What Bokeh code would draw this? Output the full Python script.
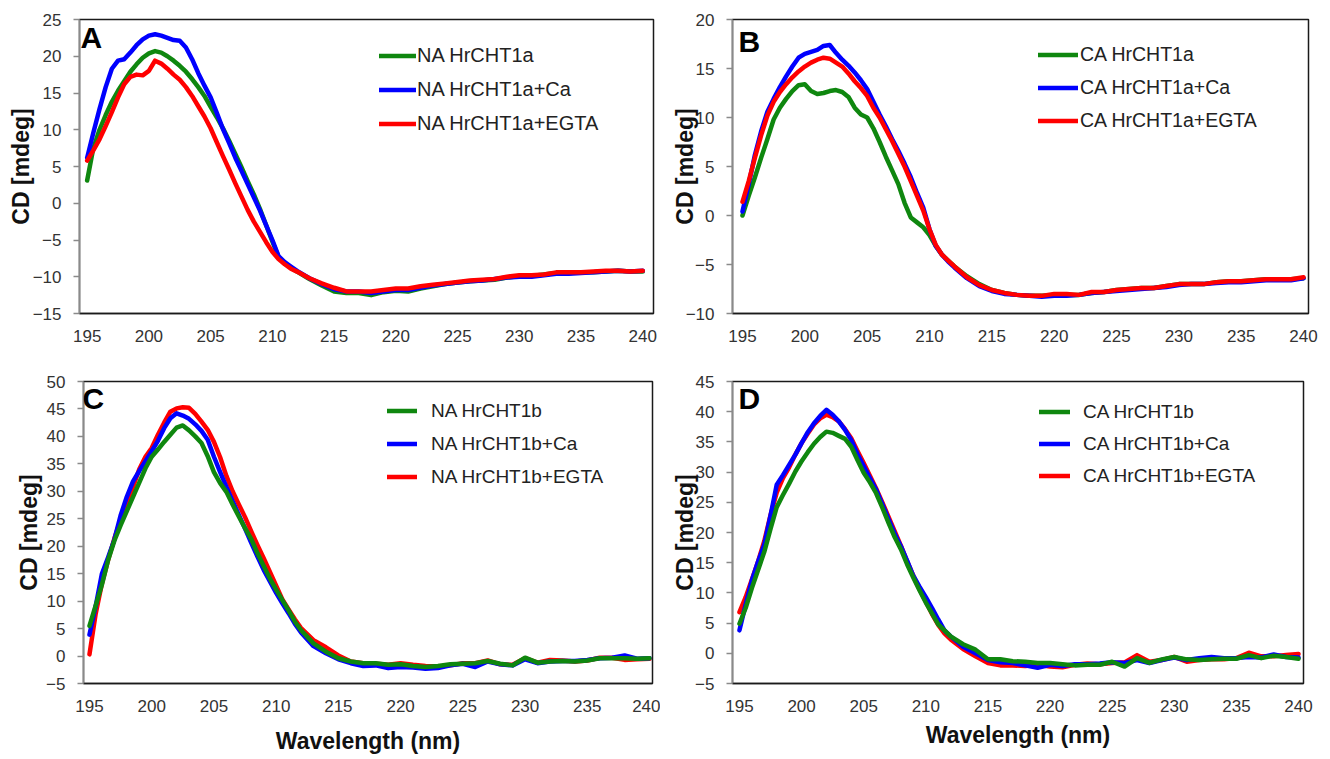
from bokeh.plotting import figure
from bokeh.layouts import row, column
from bokeh.models import Range1d, Legend, LegendItem, Label, FixedTicker
from bokeh.embed import file_html
from bokeh.resources import INLINE

# ---------------- data ----------------
wavelength = [195, 195.5, 196, 196.5, 197, 197.5, 198, 198.5, 199, 199.5,
              200, 200.5, 201, 201.5, 202, 202.5, 203, 203.5, 204, 204.5,
              205, 205.5, 206, 206.5, 207, 207.5, 208, 208.5, 209, 209.5,
              210, 210.5, 211, 211.5, 212,
              213, 214, 215, 216, 217, 218, 219, 220, 221, 222, 223, 224, 225,
              226, 227, 228, 229, 230, 231, 232, 233, 234, 235, 236, 237, 238,
              239, 240]

x_ticks = [195, 200, 205, 210, 215, 220, 225, 230, 235, 240]

# Panel A
na_1a = [3.1, 7.5, 10.0, 12.0, 13.8, 15.3, 16.6, 17.9, 18.9, 19.8,
         20.4, 20.7, 20.5, 20.0, 19.4, 18.7, 17.9, 16.9, 15.8, 14.6,
         13.1, 11.7, 10.2, 8.5, 6.7, 4.9, 3.0, 1.2, -0.8, -3.0,
         -5.2, -7.3, -8.2, -8.8, -9.3,
         -10.3, -11.2, -12.0, -12.2, -12.2, -12.5, -12.1, -11.9, -12.0, -11.6, -11.3, -11.0, -10.8,
         -10.6, -10.5, -10.4, -10.1, -9.9, -9.9, -9.7, -9.5, -9.5, -9.4, -9.4, -9.3, -9.2,
         -9.3, -9.3]
na_1a_ca = [6.2, 9.6, 12.8, 15.8, 18.3, 19.4, 19.6, 20.5, 21.5, 22.3,
            22.8, 23.0, 22.8, 22.5, 22.2, 22.1, 21.2, 19.6, 17.7, 16.0,
            14.4, 12.3, 10.1, 8.2, 6.2, 4.4, 2.6, 0.8, -1.0, -3.0,
            -5.0, -7.2, -8.0, -8.6, -9.2,
            -10.2, -11.0, -11.7, -12.0, -12.0, -12.2, -12.0, -11.8, -11.8, -11.5, -11.2, -11.0, -10.8,
            -10.6, -10.5, -10.3, -10.1, -10.0, -10.0, -9.8, -9.6, -9.6, -9.5, -9.4, -9.3, -9.2,
            -9.3, -9.2]
na_1a_egta = [5.8, 7.2, 8.7, 10.5, 12.4, 14.4, 16.2, 17.2, 17.5, 17.4,
              18.0, 19.4, 19.0, 18.3, 17.5, 16.8, 15.8, 14.6, 13.2, 11.8,
              10.2, 8.3, 6.4, 4.6, 2.7, 0.9, -0.9, -2.5, -3.9, -5.3,
              -6.6, -7.6, -8.3, -8.9, -9.3,
              -10.2, -10.9, -11.5, -12.0, -12.0, -12.0, -11.8, -11.6, -11.6, -11.3, -11.1, -10.9, -10.7,
              -10.5, -10.4, -10.3, -10.0, -9.8, -9.8, -9.7, -9.4, -9.4, -9.4, -9.3, -9.2, -9.2,
              -9.3, -9.2]

# Panel B
ca_1a = [0.0, 2.0, 3.9, 5.9, 7.8, 9.8, 11.0, 11.9, 12.7, 13.3,
         13.4, 12.7, 12.4, 12.5, 12.7, 12.8, 12.6, 12.1, 11.0, 10.3,
         10.0, 8.9, 7.5, 6.0, 4.6, 3.2, 1.3, -0.2, -0.7, -1.2,
         -2.0, -3.1, -4.0, -4.6, -5.2,
         -6.2, -7.0, -7.6, -7.9, -8.1, -8.2, -8.2, -8.1, -8.1, -8.1, -7.9, -7.8, -7.6,
         -7.5, -7.4, -7.4, -7.2, -7.0, -7.0, -7.0, -6.8, -6.7, -6.7, -6.6, -6.5, -6.5,
         -6.5, -6.4]
ca_1a_ca = [0.4, 3.2, 6.2, 8.6, 10.6, 11.9, 13.1, 14.2, 15.2, 16.1,
            16.5, 16.7, 16.9, 17.3, 17.4, 16.6, 15.9, 15.3, 14.6, 13.8,
            12.9, 11.6, 10.3, 9.1, 7.8, 6.6, 5.3, 3.9, 2.3, 0.8,
            -1.4, -3.1, -4.0, -4.7, -5.3,
            -6.4, -7.2, -7.7, -8.0, -8.1, -8.2, -8.3, -8.2, -8.2, -8.1, -7.9, -7.8, -7.7,
            -7.6, -7.5, -7.4, -7.3, -7.1, -7.0, -7.0, -6.9, -6.8, -6.8, -6.7, -6.6, -6.6,
            -6.6, -6.4]
ca_1a_egta = [1.4, 3.5, 5.9, 8.2, 10.2, 11.6, 12.6, 13.4, 14.1, 14.7,
              15.2, 15.6, 15.9, 16.1, 16.0, 15.6, 15.2, 14.5, 13.7, 13.0,
              12.2, 11.0, 10.0, 8.8, 7.6, 6.3, 5.0, 3.5, 2.0, 0.5,
              -1.4, -3.0, -4.0, -4.6, -5.2,
              -6.3, -7.1, -7.6, -7.9, -8.1, -8.2, -8.2, -8.0, -8.0, -8.1, -7.8, -7.8, -7.6,
              -7.5, -7.4, -7.4, -7.2, -7.0, -7.0, -7.0, -6.8, -6.7, -6.7, -6.6, -6.5, -6.5,
              -6.5, -6.3]

# Panel C
na_1b = [5.5, 9.2, 13.0, 17.5, 21.0, 23.8, 26.4, 29.0, 31.6, 34.2,
         36.3, 37.6, 39.0, 40.3, 41.6, 42.0, 41.1, 40.0, 38.8, 36.4,
         33.5, 31.5, 29.9, 27.6, 25.4, 23.3, 21.3, 18.7, 16.4, 14.1,
         12.1, 10.2, 8.3, 6.3, 4.7,
         2.3, 0.8, -0.4, -1.0, -1.3, -1.3, -1.6, -1.5, -1.8, -2.0, -1.8, -1.5, -1.4,
         -1.3, -0.9, -1.4, -1.7, -0.3, -1.2, -1.0, -0.9, -1.0, -0.8, -0.4, -0.4, -0.4,
         -0.5, -0.4]
na_1b_ca = [3.9, 9.1, 15.0, 18.0, 21.2, 25.6, 29.0, 31.8, 33.7, 35.5,
            37.3, 39.2, 41.5, 43.3, 44.2, 43.8, 43.2, 42.2, 41.0, 39.4,
            36.3, 33.5, 30.8, 28.2, 25.7, 23.2, 20.6, 18.1, 15.7, 13.6,
            11.5, 9.6, 7.8, 5.9, 4.3,
            1.8, 0.5, -0.6, -1.3, -1.8, -1.7, -2.2, -2.0, -2.1, -2.3, -2.2, -1.7, -1.4,
            -2.0, -1.0, -1.5, -1.7, -0.6, -1.3, -1.0, -0.9, -0.9, -0.7, -0.4, -0.3, 0.1,
            -0.5, -0.4]
na_1b_egta = [0.3, 7.7, 13.2, 17.5, 21.4, 24.8, 27.9, 30.8, 34.0, 36.3,
              37.9, 40.3, 42.5, 44.5, 45.1, 45.3, 45.2, 44.1, 42.7, 41.2,
              39.0, 36.2, 32.8, 30.0, 27.6, 25.3, 22.7, 20.2, 17.8, 15.3,
              12.8, 10.3, 8.5, 6.7, 5.1,
              2.9, 1.6, 0.1, -1.0, -1.3, -1.4, -1.6, -1.3, -1.6, -1.8, -1.9, -1.7, -1.3,
              -1.3, -0.8, -1.5, -1.6, -0.4, -1.2, -0.7, -0.8, -1.0, -0.8, -0.3, -0.3, -0.7,
              -0.6, -0.5]

# Panel D
ca_1b = [4.9, 7.5, 10.8, 13.8, 16.8, 20.6, 24.2, 26.2, 28.1, 30.1,
         31.8, 33.3, 34.7, 35.8, 36.7, 36.5, 36.0, 35.5, 34.2, 32.0,
         29.9, 28.3, 26.5, 24.1, 21.6, 19.2, 17.2, 14.7, 12.5, 10.4,
         8.4, 6.6, 4.8, 3.8, 2.8,
         1.5, 0.6, -1.0, -1.0, -1.3, -1.4, -1.6, -1.6, -1.8, -2.0, -1.9, -1.9, -1.4,
         -2.2, -0.8, -1.6, -1.0, -0.6, -1.0, -1.1, -1.0, -0.9, -0.9, -0.3, -0.8, -0.4,
         -0.6, -0.9]
ca_1b_ca = [3.8, 8.1, 12.1, 15.2, 18.0, 22.8, 27.9, 29.5, 31.2, 32.9,
            34.8, 36.6, 38.1, 39.3, 40.3, 39.5, 38.4, 37.0, 35.3, 33.0,
            31.0, 29.0, 27.1, 24.7, 22.2, 19.8, 17.7, 15.3, 12.8, 11.0,
            9.3, 7.5, 5.6, 3.8, 2.8,
            1.1, 0.0, -1.1, -1.5, -1.6, -2.0, -2.4, -1.9, -2.1, -1.8, -1.8, -1.7, -1.5,
            -1.6, -1.1, -1.6, -1.1, -0.7, -1.1, -0.8, -0.6, -0.8, -0.8, -0.6, -0.7, -0.2,
            -0.6, -0.7]
ca_1b_egta = [6.8, 9.3, 12.2, 15.2, 18.6, 22.9, 26.6, 29.0, 30.8, 32.9,
              34.8, 36.4, 37.9, 38.9, 39.5, 39.1, 38.4, 37.1, 35.6, 33.5,
              31.5, 29.4, 27.3, 25.0, 22.6, 20.2, 17.8, 15.2, 12.8, 10.6,
              8.6, 6.5, 4.7, 3.3, 2.3,
              0.7, -0.5, -1.6, -2.0, -2.0, -2.1, -1.9, -2.2, -2.3, -1.9, -1.7, -1.8, -1.6,
              -1.5, -0.3, -1.4, -1.1, -0.6, -1.4, -1.1, -1.0, -1.0, -0.8, 0.1, -0.5, -0.5,
              -0.3, -0.1]

GREEN = "#0f870f"
BLUE = "#0000ff"
RED = "#ff0000"
FONT = "Liberation Sans"


def panel(letter, w, h, mb, xr, yr, yticks, series, order, leg, leg_font,
          ytitle_standoff, xtitle_standoff, letter_off):
    left, right, top, bottom = mb
    p = figure(width=w, height=h, output_backend="svg", toolbar_location=None,
               x_range=Range1d(*xr), y_range=Range1d(*yr),
               min_border_left=left, min_border_right=right,
               min_border_top=top, min_border_bottom=bottom)
    p.background_fill_color = "white"
    p.border_fill_color = "white"
    p.outline_line_color = "#1a1a1a"
    p.outline_line_width = 1.5
    p.xgrid.visible = False
    p.ygrid.visible = False

    xa = p.xaxis[0]
    xa.ticker = FixedTicker(ticks=x_ticks)
    xa.major_tick_out = 0
    xa.major_tick_in = 0
    xa.major_tick_line_color = None
    xa.minor_tick_line_color = None
    xa.axis_line_color = "#1a1a1a"
    xa.axis_line_width = 1.5
    xa.major_label_standoff = 16
    xa.major_label_text_font = FONT
    xa.major_label_text_font_size = "17px"
    xa.major_label_text_color = "#333333"
    if xtitle_standoff is not None:
        xa.axis_label = "Wavelength (nm)"
        xa.axis_label_text_font = FONT
        xa.axis_label_text_font_size = "23px"
        xa.axis_label_text_font_style = "bold"
        xa.axis_label_text_color = "#111111"
        xa.axis_label_standoff = xtitle_standoff

    ya = p.yaxis[0]
    ya.ticker = FixedTicker(ticks=yticks)
    ya.major_tick_out = 6
    ya.major_tick_in = 0
    ya.major_tick_line_color = "#8a8a8a"
    ya.major_tick_line_width = 1.5
    ya.minor_tick_line_color = None
    ya.axis_line_color = "#8a8a8a"
    ya.axis_line_width = 1.5
    ya.major_label_standoff = 12
    ya.major_label_text_font = FONT
    ya.major_label_text_font_size = "17px"
    ya.major_label_text_color = "#333333"
    ya.axis_label = "CD [mdeg]"
    ya.axis_label_text_font = FONT
    ya.axis_label_text_font_size = "23px"
    ya.axis_label_text_font_style = "bold"
    ya.axis_label_text_color = "#111111"
    ya.axis_label_standoff = ytitle_standoff

    rends = {}
    for key in order:
        label, ys, color = series[key]
        rends[key] = p.line(wavelength, ys, line_color=color, line_width=4.5,
                            line_cap="round", line_join="round")

    items = [LegendItem(label=series[k][0], renderers=[rends[k]]) for k in ("g", "b", "r")]
    gx, gy, gw, stand, spacing = leg
    legend = Legend(items=items, location=(gx, gy), orientation="vertical",
                    glyph_width=gw, glyph_height=25, label_height=25,
                    label_standoff=stand, spacing=spacing, padding=0, margin=0,
                    border_line_color=None, background_fill_alpha=0,
                    label_text_font=FONT, label_text_font_size=leg_font,
                    label_text_color="#222222")
    p.add_layout(legend)

    # panel letter
    dx, dy = letter_off
    p.add_layout(Label(x=xr[0], y=yr[1], x_offset=dx, y_offset=-dy, text=letter,
                       text_font=FONT, text_font_size="30px", text_font_style="bold",
                       text_color="black", text_baseline="top", text_align="left"))
    return p


pA = panel("A", 659, 359, (79, 6, 19, 45), (194.38, 240.87), (-15, 25),
           [-15, -10, -5, 0, 5, 10, 15, 20, 25],
           {"g": ("NA HrCHT1a", na_1a, GREEN), "b": ("NA HrCHT1a+Ca", na_1a_ca, BLUE),
            "r": ("NA HrCHT1a+EGTA", na_1a_egta, RED)},
           ("g", "b", "r"), (300, 177, 37, 1, 9), "20px", -4, None, (1, 1))

pB = panel("B", 669, 359, (73, 20, 16, 46), (194.2, 240.4), (-10, 20),
           [-10, -5, 0, 5, 10, 15, 20],
           {"g": ("CA HrCHT1a", ca_1a, GREEN), "b": ("CA HrCHT1a+Ca", ca_1a_ca, BLUE),
            "r": ("CA HrCHT1a+EGTA", ca_1a_egta, RED)},
           ("g", "b", "r"), (306, 180, 40, 2, 8), "19.5px", -15, None, (6, 5))

pC = panel("C", 660, 399, (83, 8, 22, 75), (194.52, 240.24), (-5, 50),
           [-5, 0, 5, 10, 15, 20, 25, 30, 35, 40, 45, 50],
           {"g": ("NA HrCHT1b", na_1b, GREEN), "b": ("NA HrCHT1b+Ca", na_1b_ca, BLUE),
            "r": ("NA HrCHT1b+EGTA", na_1b_egta, RED)},
           ("r", "b", "g"), (304, 194, 30, 14, 8), "19px", 1, 13, (-1, 0))

pD = panel("D", 668, 399, (72, 25, 21, 69), (194.44, 240.4), (-5, 45),
           [-5, 0, 5, 10, 15, 20, 25, 30, 35, 40, 45],
           {"g": ("CA HrCHT1b", ca_1b, GREEN), "b": ("CA HrCHT1b+Ca", ca_1b_ca, BLUE),
            "r": ("CA HrCHT1b+EGTA", ca_1b_egta, RED)},
           ("r", "b", "g"), (307, 195, 31, 13, 7), "19px", -6, 7, (6, 0))

layout = column(row(pA, pB), row(pC, pD))

open("out.html", "w").write(file_html(layout, INLINE, "CD spectra"))
